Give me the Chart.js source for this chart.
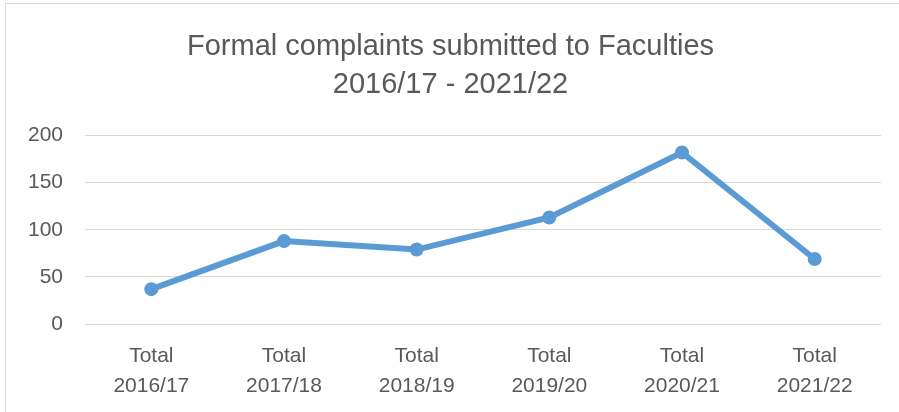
<!DOCTYPE html>
<html>
<head>
<meta charset="utf-8">
<script src="https://cdn.jsdelivr.net/npm/chart.js@4/dist/chart.umd.min.js"></script>
<style>
    html, body { margin: 0; padding: 0; background: #fff; overflow: hidden; }
    #frame { position: absolute; left: 5px; top: 3px; width: 1000px; height: 500px; border: 1px solid #d9d9d9; }
    #wrap { position: absolute; left: 0; top: 0; width: 899px; height: 412px; }
</style>
</head>
<body>
<div id="frame"></div>
<div id="wrap"><canvas id="complaintsChart"></canvas></div>
<script>
// Chart data
const years = ['2016/17', '2017/18', '2018/19', '2019/20', '2020/21', '2021/22'];
const complaints = [37, 88, 79, 113, 182, 69];
const yTicks = [0, 50, 100, 150, 200];

const fontFamily = "'Liberation Sans', Arial, sans-serif";
const textColor = '#595959';

const ctx = document.getElementById('complaintsChart');
new Chart(ctx, {
    type: 'line',
    data: {
        labels: years.map(y => ['Total', y]),
        datasets: [{
            label: 'Formal complaints',
            data: complaints,
            borderColor: '#5b9bd5',
            backgroundColor: '#5b9bd5',
            borderWidth: 6,
            pointRadius: 7,
            pointBorderWidth: 0,
            tension: 0
        }]
    },
    options: {
        responsive: true,
        maintainAspectRatio: false,
        animation: false,
        layout: {
            padding: { left: 20, right: 18, top: 0, bottom: 0 }
        },
        plugins: {
            legend: { display: false },
            tooltip: { enabled: false },
            title: {
                display: true,
                text: ['Formal complaints submitted to Faculties', '2016/17 - 2021/22'],
                color: textColor,
                font: { family: fontFamily, size: 29, weight: 'normal', lineHeight: 1.32 },
                padding: { top: 28, bottom: 31 }
            }
        },
        scales: {
            x: {
                offset: true,
                afterFit: (axis) => { axis.height = 88; },
                grid: { display: false, drawTicks: false },
                border: { display: false },
                ticks: {
                    color: textColor,
                    font: { family: fontFamily, size: 21, lineHeight: 1.4 },
                    maxRotation: 0,
                    autoSkip: false,
                    padding: 18
                }
            },
            y: {
                min: 0,
                max: 200,
                afterBuildTicks: (axis) => { axis.ticks = yTicks.map(v => ({ value: v })); },
                afterFit: (axis) => { axis.width = 65; },
                grid: { color: '#d9d9d9', lineWidth: 1, drawTicks: false },
                border: { display: false },
                ticks: {
                    color: textColor,
                    font: { family: fontFamily, size: 21 },
                    padding: 22
                }
            }
        }
    }
});
</script>
</body>
</html>
